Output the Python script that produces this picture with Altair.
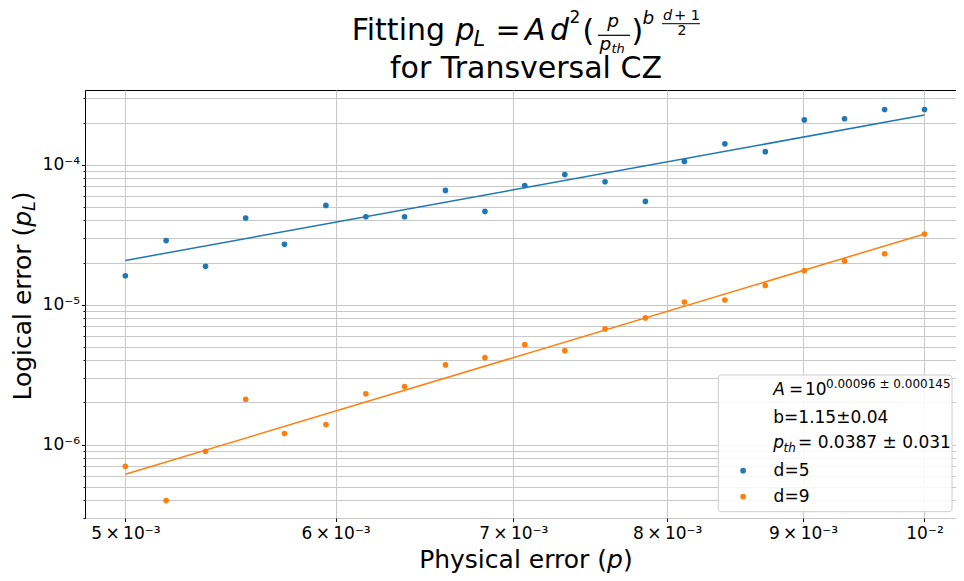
import altair as alt
import pandas as pd

# ---------------- data ----------------
p_values = [0.005, 0.00518, 0.00536, 0.00555, 0.00574, 0.00595, 0.00616, 0.00637,
            0.0066, 0.00683, 0.00707, 0.00732, 0.00758, 0.00785, 0.00812, 0.00841,
            0.00871, 0.00901, 0.00933, 0.00966, 0.01]
pl_d5 = [1.61e-5, 2.87e-5, 1.88e-5, 4.16e-5, 2.70e-5, 5.12e-5, 4.25e-5, 4.25e-5,
         6.55e-5, 4.64e-5, 7.11e-5, 8.52e-5, 7.56e-5, 5.47e-5, 1.056e-4, 1.41e-4,
         1.24e-4, 2.09e-4, 2.13e-4, 2.48e-4, 2.48e-4]
pl_d9 = [7.0e-7, 3.98e-7, 8.96e-7, 2.11e-6, 1.20e-6, 1.39e-6, 2.31e-6, 2.60e-6,
         3.71e-6, 4.18e-6, 5.18e-6, 4.69e-6, 6.71e-6, 8.04e-6, 1.045e-5, 1.08e-5,
         1.37e-5, 1.75e-5, 2.05e-5, 2.31e-5, 3.20e-5]
fit_p = [0.005, 0.01]
fit_d5 = [2.07e-5, 2.265e-4]
fit_d9 = [6.14e-7, 3.20e-5]
series_names = ["d=5", "d=9"]
series_colors = ["#1f77b4", "#ff7f0e"]

x_tick_values = [0.005, 0.006, 0.007, 0.008, 0.009, 0.01]
y_tick_values = [3e-7, 4e-7, 5e-7, 6e-7, 7e-7, 8e-7, 9e-7,
                 1e-6, 2e-6, 3e-6, 4e-6, 5e-6, 6e-6, 7e-6, 8e-6, 9e-6,
                 1e-5, 2e-5, 3e-5, 4e-5, 5e-5, 6e-5, 7e-5, 8e-5, 9e-5,
                 1e-4, 2e-4, 3e-4]
x_domain = [0.004828, 0.010277]
y_domain = [2.99e-7, 3.42e-4]

# ---------------- tables ----------------
pts = pd.DataFrame({
    "p": p_values + p_values,
    "pl": pl_d5 + pl_d9,
    "series": [series_names[0]] * len(p_values) + [series_names[1]] * len(p_values),
})
fits = pd.DataFrame({
    "p": fit_p + fit_p,
    "pl": fit_d5 + fit_d9,
    "series": [series_names[0]] * 2 + [series_names[1]] * 2,
})
one = pd.DataFrame({"k": [0]})

FONT = "DejaVu Sans"
OX, OY = 85, 90  # plot-area origin on the page (for annotation placement)

xscale = alt.Scale(type="log", domain=x_domain, nice=False)
yscale = alt.Scale(type="log", domain=y_domain, nice=False)

xaxis = alt.Axis(
    values=x_tick_values, title=None, grid=True, tickSize=3.5,
    labelExpr="datum.value == 0.01 ? '10⁻²' : format(datum.value*1000, '.0f') + '\u2009×\u200910⁻³'",
    labelPadding=4, labelOverlap=False, labelFlush=False,
)
yaxis = alt.Axis(
    values=y_tick_values, title=None, grid=True,
    tickSize={"condition": {"test": "datum.value == 0.0001 || datum.value == 0.00001 || datum.value == 0.000001",
                            "value": 3.5}, "value": 2},
    labelExpr="datum.value == 0.0001 ? '10⁻⁴' : datum.value == 0.00001 ? '10⁻⁵' : datum.value == 0.000001 ? '10⁻⁶' : ''",
    labelPadding=2, labelOverlap=False, labelFlush=False,
)

lines = alt.Chart(fits).mark_line(strokeWidth=1.5).encode(
    x=alt.X("p:Q", scale=xscale, axis=xaxis),
    y=alt.Y("pl:Q", scale=yscale, axis=yaxis),
    color=alt.Color("series:N", scale=alt.Scale(domain=series_names, range=series_colors), legend=None),
    detail="series:N",
)

points = alt.Chart(pts).mark_point(filled=True, size=32, opacity=1).encode(
    x=alt.X("p:Q", scale=xscale, axis=xaxis),
    y=alt.Y("pl:Q", scale=yscale, axis=yaxis),
    color=alt.Color("series:N", scale=alt.Scale(domain=series_names, range=series_colors),
                    legend=alt.Legend(
                        title=None, orient="none", legendX=734.6 - OX, legendY=462.2 - OY,
                        symbolType="circle", symbolSize=32, symbolStrokeWidth=0,
                        labelFont=FONT, labelFontSize=17, labelColor="black",
                        rowPadding=8, labelOffset=22, padding=0,
                    )),
)


def txt(s, px, py, size, italic=False, align="left", angle=0):
    return alt.Chart(one).mark_text(
        text=s, font=FONT, fontSize=size, fontStyle="italic" if italic else "normal",
        align=align, baseline="alphabetic", angle=angle, color="black",
    ).encode(x=alt.value(px - OX), y=alt.value(py - OY))


def hbar(x1, x2, py, w=1.2):
    return alt.Chart(one).mark_rule(color="black", strokeWidth=w).encode(
        x=alt.value(x1 - OX), x2=alt.value(x2 - OX), y=alt.value(py - OY))


legend_box = alt.Chart(one).mark_rect(
    fill="white", fillOpacity=0.85, stroke="#cccccc", strokeWidth=1, cornerRadius=3
).encode(x=alt.value(718.3 - OX), x2=alt.value(952 - OX),
         y=alt.value(375 - OY), y2=alt.value(511.7 - OY))

annotations = [
    # title line 1: Fitting p_L = A d^2 (p / p_th)^{b (d+1)/2}
    txt("Fitting", 351.7, 40.3, 30),
    txt("p", 455.5, 40.3, 30, italic=True),
    txt("L", 473.5, 45.5, 21, italic=True),
    txt("=", 508, 40.3, 30, align="center"),
    txt("A", 525, 40.3, 30, italic=True),
    txt("d", 550, 40.3, 30, italic=True),
    txt("2", 569.5, 23, 17),
    txt("(", 582.5, 41, 30),
    txt("p", 613, 27, 18.5, italic=True, align="center"),
    hbar(598, 630, 35.3),
    txt("p", 599.5, 50, 18.5, italic=True),
    txt("th", 611.5, 53, 13, italic=True),
    txt(")", 631.5, 41, 30),
    txt("b", 642.5, 24, 18.5, italic=True),
    txt("d", 663, 20, 14.5, italic=True),
    txt("+ 1", 674, 20, 14.5),
    hbar(662, 700, 23.7, 1.0),
    txt("2", 682, 35, 14, align="center"),
    # title line 2
    txt("for Transversal CZ", 526, 78, 30, align="center"),
    # x-axis title
    txt("Physical error (", 607, 568, 25, align="right"),
    txt("p", 607, 568, 25, italic=True),
    txt(")", 622.9, 568, 25),
    # y-axis title (rotated)
    txt(")", 31, 191.5, 25, align="right", angle=270),
    txt("L", 35, 201.2, 17.5, italic=True, align="right", angle=270),
    txt("p", 31, 210.9, 25, italic=True, align="right", angle=270),
    txt("Logical error (", 31, 226.8, 25, align="right", angle=270),
    # legend parameter lines
    txt("A", 773.3, 395, 17, italic=True),
    txt("=", 796, 395, 17, align="center"),
    txt("10", 805, 395, 17),
    txt("0.00096 ± 0.000145", 826, 388, 12),
    txt("b=1.15±0.04", 773.3, 423, 17),
    txt("p", 773.3, 448, 17, italic=True),
    txt("th", 783.5, 452, 12, italic=True),
    txt("= 0.0387 ± 0.031", 798, 448, 17),
]

chart = alt.layer(lines, points, legend_box, *annotations).resolve_scale(
    color="independent"
).properties(
    width=871, height=428,
    autosize=alt.AutoSizeParams(type="none"),
    padding={"left": 77, "top": 82, "right": 0, "bottom": 56},
    background="white",
).configure_axis(
    labelFont=FONT, labelFontSize=17, labelColor="black",
    tickColor="black", tickWidth=1, gridColor="#c8c8c8", gridWidth=1, domain=False,
).configure_view(
    stroke="black", strokeWidth=1,
)

chart.save("out.html", embed_options={"renderer": "svg", "actions": False})
